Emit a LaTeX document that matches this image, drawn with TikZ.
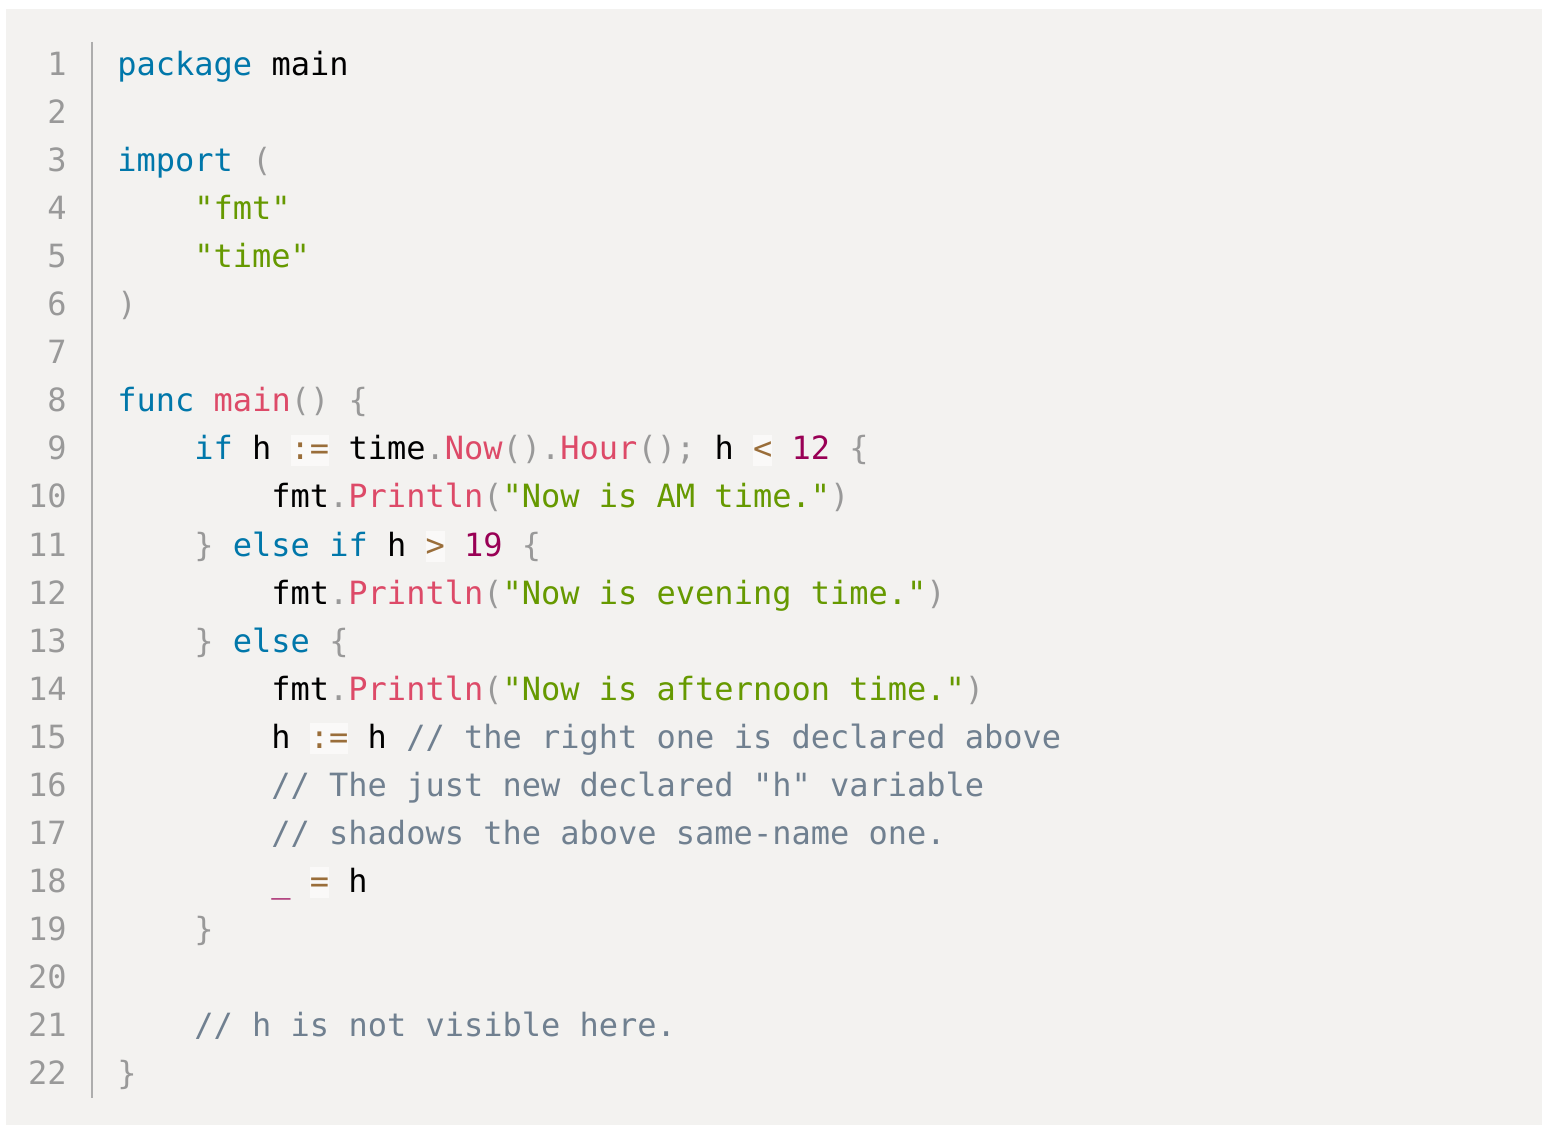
\documentclass[tikz,border=0pt]{standalone}
\usepackage{fontspec}
\setmonofont{DejaVu Sans Mono}
\usetikzlibrary{positioning}
\definecolor{codebg}{HTML}{F3F2F0}
\definecolor{opbg}{HTML}{FAF9F8}
\definecolor{kwc}{HTML}{0077AA}
\definecolor{strc}{HTML}{669900}
\definecolor{fnc}{HTML}{DD4A68}
\definecolor{numc}{HTML}{990055}
\definecolor{opc}{HTML}{9A6E3A}
\definecolor{cmc}{HTML}{708090}
\definecolor{puc}{HTML}{999999}
\newcommand\kw[1]{\textcolor{kwc}{#1}}
\newcommand\strg[1]{\textcolor{strc}{#1}}
\newcommand\fn[1]{\textcolor{fnc}{#1}}
\newcommand\num[1]{\textcolor{numc}{#1}}
\newcommand\cm[1]{\textcolor{cmc}{#1}}
\newcommand\pu[1]{\textcolor{puc}{#1}}
\newcommand\op[1]{{\setlength\fboxsep{0pt}\colorbox{opbg}{\rule[-3pt]{0pt}{15.5pt}\color{opc}#1}}}
\tikzset{
    lineno/.style={anchor=base east, inner sep=0pt, text=puc,
    font=\ttfamily\fontsize{16}{24}\selectfont},
    codeline/.style={anchor=base west, inner sep=0pt, text=black,
    font=\ttfamily\fontsize{16}{24}\selectfont},
    gutter/.style={draw=puc!80, line width=1pt}
}
\def\cx{117}
\def\tab{77}
\def\ly{75.5}
\def\lh{48.05}
\begin{document}
\begin{tikzpicture}[x=0.5pt,y=-0.5pt]
    \useasboundingbox (0,0) rectangle (1550,1134);
    \fill[codebg] (6,9) rectangle (1542,1125);
    \coordinate (gtop) at (92,42);
    \coordinate (gbot) at (92,1098);
    \draw[gutter] (gtop) -- (gbot);
    \foreach \i in {1,...,22}
        \node[lineno] (n\i) at (67,{\ly+\lh*(\i-1)}) {\i};
    \node[codeline] (l1) at (\cx,{\ly}) {\kw{package} main};
    \node[codeline] (l3) at (\cx,{\ly+\lh*2}) {\kw{import} \pu{(}};
    \node[codeline] (l4) at ({\cx+\tab},{\ly+\lh*3}) {\strg{"fmt"}};
    \node[codeline] (l5) at ({\cx+\tab},{\ly+\lh*4}) {\strg{"time"}};
    \node[codeline] (l6) at (\cx,{\ly+\lh*5}) {\pu{)}};
    \node[codeline] (l8) at (\cx,{\ly+\lh*7}) {\kw{func} \fn{main}\pu{() \{}};
    \node[codeline] (l9) at ({\cx+\tab},{\ly+\lh*8}) {\kw{if} h \op{:=} time\pu{.}\fn{Now}\pu{().}\fn{Hour}\pu{();} h \op{<} \num{12} \pu{\{}};
    \node[codeline] (l10) at ({\cx+\tab*2},{\ly+\lh*9}) {fmt\pu{.}\fn{Println}\pu{(}\strg{"Now is AM time."}\pu{)}};
    \node[codeline] (l11) at ({\cx+\tab},{\ly+\lh*10}) {\pu{\}} \kw{else} \kw{if} h \op{>} \num{19} \pu{\{}};
    \node[codeline] (l12) at ({\cx+\tab*2},{\ly+\lh*11}) {fmt\pu{.}\fn{Println}\pu{(}\strg{"Now is evening time."}\pu{)}};
    \node[codeline] (l13) at ({\cx+\tab},{\ly+\lh*12}) {\pu{\}} \kw{else} \pu{\{}};
    \node[codeline] (l14) at ({\cx+\tab*2},{\ly+\lh*13}) {fmt\pu{.}\fn{Println}\pu{(}\strg{"Now is afternoon time."}\pu{)}};
    \node[codeline] (l15) at ({\cx+\tab*2},{\ly+\lh*14}) {h \op{:=} h \cm{// the right one is declared above}};
    \node[codeline] (l16) at ({\cx+\tab*2},{\ly+\lh*15}) {\cm{// The just new declared "h" variable}};
    \node[codeline] (l17) at ({\cx+\tab*2},{\ly+\lh*16}) {\cm{// shadows the above same-name one.}};
    \node[codeline] (l18) at ({\cx+\tab*2},{\ly+\lh*17}) {\num{\_} \op{=} h};
    \node[codeline] (l19) at ({\cx+\tab},{\ly+\lh*18}) {\pu{\}}};
    \node[codeline] (l21) at ({\cx+\tab},{\ly+\lh*20}) {\cm{// h is not visible here.}};
    \node[codeline] (l22) at (\cx,{\ly+\lh*21}) {\pu{\}}};
\end{tikzpicture}
\end{document}
